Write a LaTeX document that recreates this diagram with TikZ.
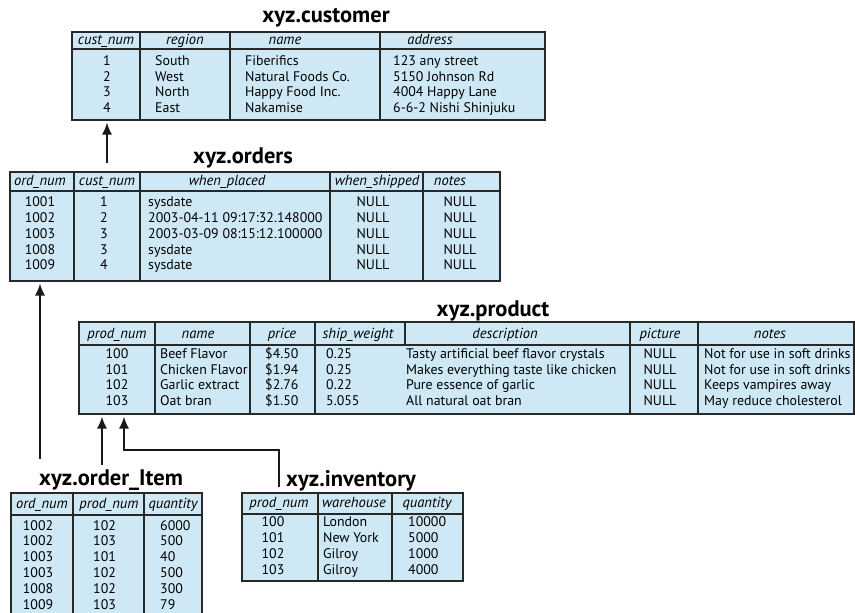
\documentclass[tikz,border=0pt]{standalone}
\usepackage{fontspec}
\setmainfont{PT Sans}
\usetikzlibrary{arrows.meta}
\definecolor{tblfill}{RGB}{206,233,245}
\definecolor{tblline}{RGB}{40,40,40}
\tikzset{
  tbl/.style={draw=tblline, fill=tblfill, line width=1.8pt, inner sep=0pt, outer sep=0pt, anchor=north west, rectangle},
  sepline/.style={draw=tblline, line width=1.6pt},
  hdr/.style={font=\fontsize{14.6}{16}\selectfont\itshape, anchor=base, inner sep=0pt},
  cc/.style={font=\fontsize{13.9}{15}\selectfont, anchor=base, inner sep=0pt},
  cl/.style={font=\fontsize{13.9}{15}\selectfont, anchor=base west, inner sep=0pt},
  ttl/.style={font=\fontsize{22.5}{24}\selectfont\bfseries, anchor=base, inner sep=0pt},
  arr/.style={draw=black!90, line width=1.8pt, -{Latex[length=12pt,width=10pt]}, shorten >=2.5pt},
}
\begin{document}
\begin{tikzpicture}[x=1pt,y=-1pt]
\useasboundingbox (0,0) rectangle (855,613);
\clip (0,0) rectangle (855,613);

% ---------------- xyz.customer
\node[ttl] (cu-t) at (326,22.7) {xyz.customer};
\node[tbl, minimum width=473pt, minimum height=88pt] (customer) at (72,32) {};
\draw[sepline] (72,49) -- (545,49);
\foreach \cx in {140,230,380} \draw[sepline] (\cx,32) -- (\cx,120);
\node[hdr] (cu-h1) at (106,44.3) {cust\_num};
\node[hdr] (cu-h2) at (185,44.3) {region};
\node[hdr] (cu-h3) at (285,44.3) {name};
\node[hdr] (cu-h4) at (430,44.3) {address};
\foreach \t [count=\i] in {1,2,3,4}
  \node[cc] (cu-a\i) at (107,{65.5+(\i-1)*15.5}) {\t};
\foreach \t [count=\i] in {South,West,North,East}
  \node[cl] (cu-b\i) at (155,{65.5+(\i-1)*15.5}) {\t};
\foreach \t [count=\i] in {Fiberifics,Natural Foods Co.,Happy Food Inc.,Nakamise}
  \node[cl] (cu-c\i) at (245,{65.5+(\i-1)*15.5}) {\t};
\foreach \t [count=\i] in {123 any street,5150 Johnson Rd,4004 Happy Lane,6-6-2 Nishi Shinjuku}
  \node[cl] (cu-d\i) at (393,{65.5+(\i-1)*15.5}) {\t};

% ---------------- xyz.orders
\node[ttl] (or-t) at (243,163) {xyz.orders};
\node[tbl, minimum width=490pt, minimum height=109pt] (orders) at (10,172) {};
\draw[sepline] (10,191) -- (500,191);
\foreach \cx in {74,140,330,423} \draw[sepline] (\cx,172) -- (\cx,281);
\node[hdr] (or-h1) at (40,185) {ord\_num};
\node[hdr] (or-h2) at (107,185) {cust\_num};
\node[hdr] (or-h3) at (227,185) {when\_placed};
\node[hdr] (or-h4) at (377,185) {when\_shipped};
\node[hdr] (or-h5) at (450,185) {notes};
\foreach \t [count=\i] in {1001,1002,1003,1008,1009}
  \node[cc] (or-a\i) at (40,{206.7+(\i-1)*15.8}) {\t};
\foreach \t [count=\i] in {1,2,3,3,4}
  \node[cc] (or-b\i) at (104,{206.7+(\i-1)*15.8}) {\t};
\foreach \t [count=\i] in {sysdate,2003-04-11 09:17:32.148000,2003-03-09 08:15:12.100000,sysdate,sysdate}
  \node[cl] (or-c\i) at (148,{206.7+(\i-1)*15.8}) {\t};
\foreach \i in {1,...,5}
  \node[cc] (or-d\i) at (373,{206.7+(\i-1)*15.8}) {NULL};
\foreach \i in {1,...,5}
  \node[cc] (or-e\i) at (460,{206.7+(\i-1)*15.8}) {NULL};

% ---------------- xyz.product
\node[ttl] (pr-t) at (493,316) {xyz.product};
\node[tbl, minimum width=775pt, minimum height=92pt] (product) at (79,322) {};
\draw[sepline] (79,345) -- (854,345);
\foreach \cx in {155,250,315,630,698} \draw[sepline] (\cx,322) -- (\cx,414);
\draw[sepline] (405,322) -- (405,345);
\node[hdr] (pr-h1) at (117,338) {prod\_num};
\node[hdr] (pr-h2) at (198,338) {name};
\node[hdr] (pr-h3) at (282,338) {price};
\node[hdr] (pr-h4) at (358,338) {ship\_weight};
\node[hdr] (pr-h5) at (505,338) {description};
\node[hdr] (pr-h6) at (660,338) {picture};
\node[hdr] (pr-h7) at (770,338) {notes};
\foreach \t [count=\i] in {100,101,102,103}
  \node[cc] (pr-a\i) at (117,{358.3+(\i-1)*15.8}) {\t};
\foreach \t [count=\i] in {Beef Flavor,Chicken Flavor,Garlic extract,Oat bran}
  \node[cl] (pr-b\i) at (160,{358.3+(\i-1)*15.8}) {\t};
\foreach \t [count=\i] in {\$4.50,\$1.94,\$2.76,\$1.50}
  \node[cl] (pr-c\i) at (265,{358.3+(\i-1)*15.8}) {\t};
\foreach \t [count=\i] in {0.25,0.25,0.22,5.055}
  \node[cl] (pr-d\i) at (326,{358.3+(\i-1)*15.8}) {\t};
\foreach \t [count=\i] in {Tasty artificial beef flavor crystals,Makes everything taste like chicken,Pure essence of garlic,All natural oat bran}
  \node[cl] (pr-e\i) at (406,{358.3+(\i-1)*15.8}) {\t};
\foreach \i in {1,...,4}
  \node[cc] (pr-f\i) at (660,{358.3+(\i-1)*15.8}) {NULL};
\foreach \t [count=\i] in {Not for use in soft drinks,Not for use in soft drinks,Keeps vampires away,May reduce cholesterol}
  \node[cl] (pr-g\i) at (704,{358.3+(\i-1)*15.8}) {\t};

% ---------------- xyz.order_Item
\node[ttl] (oi-t) at (111,485.7) {xyz.order\_Item};
\node[tbl, minimum width=191pt, minimum height=130pt] (orderitem) at (11,493) {};
\draw[sepline] (11,515) -- (202,515);
\foreach \cx in {73,144} \draw[sepline] (\cx,493) -- (\cx,623);
\node[hdr] (oi-h1) at (42,508) {ord\_num};
\node[hdr] (oi-h2) at (109,508) {prod\_num};
\node[hdr] (oi-h3) at (173,508) {quantity};
\foreach \t [count=\i] in {1002,1002,1003,1003,1008,1009}
  \node[cc] (oi-a\i) at (38,{530+(\i-1)*15.9}) {\t};
\foreach \t [count=\i] in {102,103,101,102,102,103}
  \node[cl] (oi-b\i) at (93,{530+(\i-1)*15.9}) {\t};
\foreach \t [count=\i] in {6000,500,40,500,300,79}
  \node[cl] (oi-c\i) at (160,{530+(\i-1)*15.9}) {\t};

% ---------------- xyz.inventory
\node[ttl] (in-t) at (351,486) {xyz.inventory};
\node[tbl, minimum width=221pt, minimum height=88pt] (inventory) at (242,493) {};
\draw[sepline] (242,514) -- (463,514);
\foreach \cx in {318,392} \draw[sepline] (\cx,493) -- (\cx,581);
\node[hdr] (in-h1) at (279,507) {prod\_num};
\node[hdr] (in-h2) at (354,507) {warehouse};
\node[hdr] (in-h3) at (427,507) {quantity};
\foreach \t [count=\i] in {100,101,102,103}
  \node[cc] (in-a\i) at (273,{526+(\i-1)*16}) {\t};
\foreach \t [count=\i] in {London,New York,Gilroy,Gilroy}
  \node[cl] (in-b\i) at (323,{526+(\i-1)*16}) {\t};
\foreach \t [count=\i] in {10000,5000,1000,4000}
  \node[cl] (in-c\i) at (408,{526+(\i-1)*16}) {\t};

% ---------------- connectors
\coordinate (a1s) at (107,163);
\draw[arr] (a1s) -- (a1s |- customer.south);
\coordinate (a2s) at (40,459);
\draw[arr] (a2s) -- (a2s |- orders.south);
\coordinate (a3s) at (102,465);
\draw[arr] (a3s) -- (a3s |- product.south);
\coordinate (a4s) at (279,487);
\coordinate (a4b) at (124,450);
\draw[arr] (a4s) |- (a4b) -- (a4b |- product.south);
\end{tikzpicture}
\end{document}
